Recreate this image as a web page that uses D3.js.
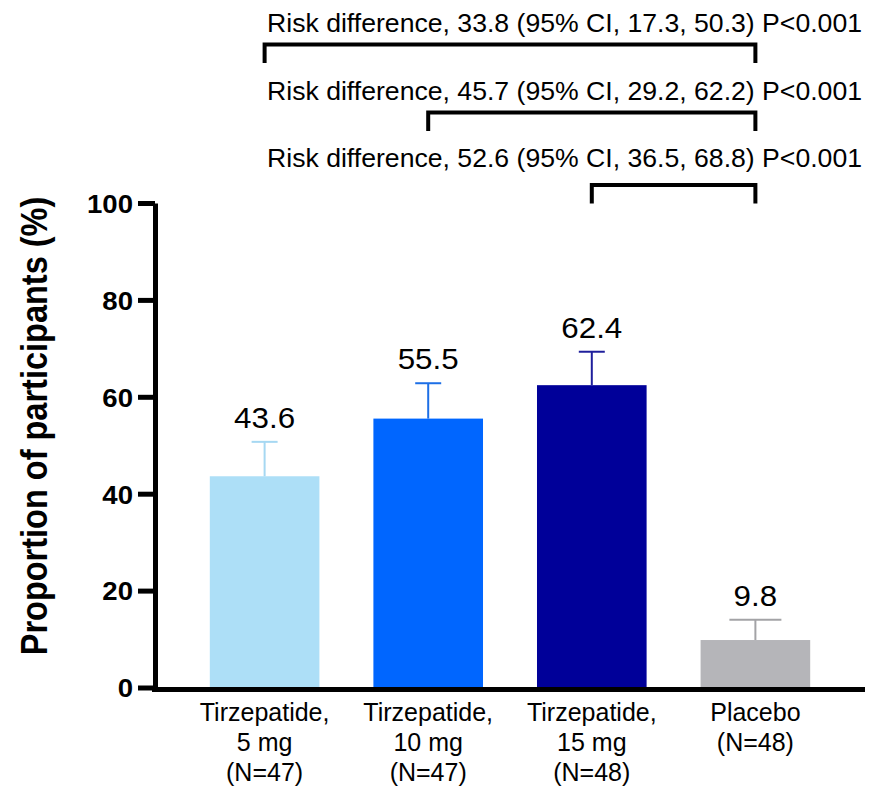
<!DOCTYPE html>
<html>
<head>
<meta charset="utf-8">
<script src="https://cdn.jsdelivr.net/npm/d3@7"></script>
<style>
  html, body { margin: 0; padding: 0; background: #fff; }
  svg { display: block; }
  text { font-family: "Liberation Sans", Arial, Helvetica, sans-serif; fill: #000; }
</style>
</head>
<body>
<svg id="chart" width="869" height="787"></svg>
<script>
// ---------- data ----------
const categories = ["Tirzepatide, 5 mg", "Tirzepatide, 10 mg", "Tirzepatide, 15 mg", "Placebo"];
const categoryLines = [
  ["Tirzepatide,", "5 mg", "(N=47)"],
  ["Tirzepatide,", "10 mg", "(N=47)"],
  ["Tirzepatide,", "15 mg", "(N=48)"],
  ["Placebo", "(N=48)"]
];
const values = [43.6, 55.5, 62.4, 9.8];
const errorUpper = [50.7, 62.8, 69.3, 14.0];
const yTicks = [0, 20, 40, 60, 80, 100];
const yLabel = "Proportion of participants (%)";
const compareFrom = [0, 1, 2];
const compareTo = [3, 3, 3];
const compareText = [
  "Risk difference, 33.8 (95% CI, 17.3, 50.3) P<0.001",
  "Risk difference, 45.7 (95% CI, 29.2, 62.2) P<0.001",
  "Risk difference, 52.6 (95% CI, 36.5, 68.8) P<0.001"
];

// ---------- styles ----------
const barColors = ["#addff7", "#0066ff", "#000099", "#b5b5b9"];
const errColors = ["#a6d8f2", "#1d6fe6", "#1f1f9c", "#a3a3a6"];
const capHalf = [13, 13, 13, 26];
const HSTRETCH = 1.1;

// ---------- layout ----------
const svg = d3.select("#chart");
const axisX = 155, axisRight = 865;
const y = d3.scaleLinear().domain([0, 100]).range([687.5, 203]);
const x = d3.scaleBand().domain(categories).range([axisX, axisRight])
  .paddingInner(0.33).paddingOuter(0.335);

function stretch(sel, k) {
  sel.each(function () {
    const L = this.getComputedTextLength();
    d3.select(this).attr("textLength", L * k).attr("lengthAdjust", "spacingAndGlyphs");
  });
}

// bars
svg.append("g").selectAll("rect").data(categories).join("rect")
  .attr("x", d => x(d))
  .attr("width", x.bandwidth())
  .attr("y", (d, i) => y(values[i]))
  .attr("height", (d, i) => y(0) - y(values[i]))
  .attr("fill", (d, i) => barColors[i]);

// error bars (upper only)
const eg = svg.append("g");
categories.forEach((c, i) => {
  const cx = x(c) + x.bandwidth() / 2;
  eg.append("line").attr("x1", cx).attr("x2", cx)
    .attr("y1", y(values[i])).attr("y2", y(errorUpper[i]))
    .attr("stroke", errColors[i]).attr("stroke-width", 2);
  eg.append("line").attr("x1", cx - capHalf[i]).attr("x2", cx + capHalf[i])
    .attr("y1", y(errorUpper[i])).attr("y2", y(errorUpper[i]))
    .attr("stroke", errColors[i]).attr("stroke-width", 2);
});

// value labels
const vl = svg.append("g").selectAll("text").data(categories).join("text")
  .attr("x", d => x(d) + x.bandwidth() / 2)
  .attr("y", (d, i) => y(errorUpper[i]) - 14)
  .attr("text-anchor", "middle")
  .attr("font-size", 29)
  .text((d, i) => values[i].toFixed(1));
stretch(vl, 1.08);

// y axis
const yAxis = svg.append("g").attr("transform", `translate(${axisX},0)`)
  .call(d3.axisLeft(y).tickValues(yTicks).tickSize(17).tickSizeOuter(0).tickPadding(5));
yAxis.select(".domain").attr("stroke", "#000").attr("stroke-width", 5);
yAxis.selectAll(".tick line").attr("stroke", "#000").attr("stroke-width", 5);
yAxis.selectAll(".tick text").attr("font-size", 26).attr("font-weight", "bold")
  .attr("font-family", "'Liberation Sans', Arial, sans-serif").attr("fill", "#000").attr("dy", "0.36em");
stretch(yAxis.selectAll(".tick text"), 1.06);

// x axis
const xAxis = svg.append("g").attr("transform", `translate(0,${y(0) + 2})`)
  .call(d3.axisBottom(x).tickSize(0).tickSizeOuter(0).tickFormat(""));
xAxis.select(".domain").attr("stroke", "#000").attr("stroke-width", 5)
  .attr("d", `M${axisX - 3},0H${axisRight}`);
xAxis.selectAll(".tick text").remove();
xAxis.selectAll(".tick").each(function (d, i) {
  const t = d3.select(this).append("text")
    .attr("text-anchor", "middle").attr("font-size", 25).attr("fill", "#000")
    .attr("font-family", "'Liberation Sans', Arial, sans-serif");
  categoryLines[i].forEach((line, j) => {
    t.append("tspan").attr("x", 0).attr("y", 31 + j * 30).text(line);
  });
});
stretch(xAxis.selectAll("tspan"), 1.0);

// y axis title
svg.append("text")
  .attr("transform", "translate(47,426) scale(1.15,1) rotate(-90)")
  .attr("text-anchor", "middle").attr("font-size", 32.5).attr("font-weight", "bold")
  .text(yLabel);

// comparison brackets
const bracketY = [44.5, 112.5, 185];
const textY = [31.5, 99.5, 166.5];
const bg = svg.append("g");
compareText.forEach((txt, i) => {
  const x1 = x(categories[compareFrom[i]]) + x.bandwidth() / 2;
  const x2 = x(categories[compareTo[i]]) + x.bandwidth() / 2;
  bg.append("path")
    .attr("d", `M${x1},${bracketY[i] + 18.5}V${bracketY[i]}H${x2}V${bracketY[i] + 18.5}`)
    .attr("fill", "none").attr("stroke", "#000").attr("stroke-width", 4);
  const t = bg.append("text").attr("x", 267).attr("y", textY[i])
    .attr("font-size", 26).text(txt);
  t.attr("textLength", 595).attr("lengthAdjust", "spacingAndGlyphs");
});
</script>
</body>
</html>
